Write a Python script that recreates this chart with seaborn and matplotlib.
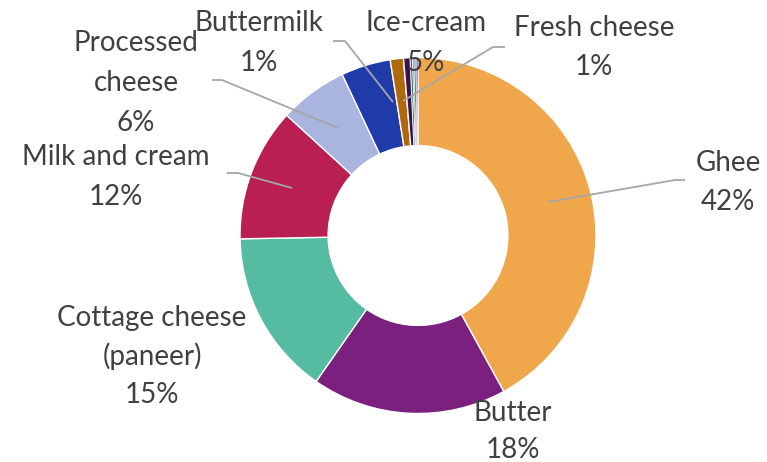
import matplotlib
matplotlib.use("Agg")
import matplotlib.pyplot as plt
import seaborn as sns

sns.set_theme(style="white")
plt.rcParams['font.family'] = ['Lato', 'DejaVu Sans']

# share of each product (clockwise from 12 o'clock)
products = ["Ghee", "Butter", "Cottage cheese\n(paneer)", "Milk and cream",
            "Processed\ncheese", "Ice-cream", "Buttermilk", "Fresh cheese",
            "o1", "o2", "o3", "o4", "o5"]
shares = [42.0, 17.7, 15.0, 12.1, 6.2, 4.5, 1.2, 0.6, 0.2, 0.15, 0.15, 0.1, 0.1]
pct_text = ["42%", "18%", "15%", "12%", "6%", "5%", "1%", "1%"]
colors = ["#F0A64B", "#7B207F", "#55BBA1", "#B91F50", "#A9B5DF", "#1F3AA9",
          "#B0680E", "#3E0F4F", "#2E8A68", "#9AB3A8", "#2F50B3", "#5B3A8C", "#1A2D80"]

W, H = 767, 462
fig = plt.figure(figsize=(W / 100, H / 100), dpi=100)
ax = fig.add_axes([0, 0, 1, 1])

cx, cy, R = 418, 235.5, 178
wedges, _ = ax.pie(shares, colors=colors, startangle=90, counterclock=False,
                   center=(cx, H - cy), radius=R,
                   wedgeprops=dict(width=R * 0.495, edgecolor="white", linewidth=1.0))
# thinner white edges on the tiny slices so their colour still shows
for w in wedges[8:]:
    w.set_linewidth(0.4)
ax.set_xlim(0, W)
ax.set_ylim(0, H)
ax.set_aspect("equal")
ax.axis("off")

txt = "#404040"
line_c = "#A6A6A6"
fs = 20

# label centres (px, from top-left): x, first line y, last line y
label_pos = {
    0: (728, 163, 202),
    1: (513, 413, 450),
    2: (152, 318, 395),
    3: (116, 157, 197),
    4: (136, 43, 123),
    5: (426, 23, 63),
    6: (259, 23, 63),
    7: (594, 28, 67),
}
for i, (x, y_first, y_last) in label_pos.items():
    lines = products[i].split("\n") + [pct_text[i]]
    n = len(lines)
    for k, s in enumerate(lines):
        yy = y_first + (y_last - y_first) * k / (n - 1)
        ax.text(x, H - yy, s, ha="center", va="center", fontsize=fs, color=txt)

# leader lines (px)
leaders = [
    [(548, 202), (675, 180), (685, 180)],
    [(292, 188), (238, 173), (227, 173)],
    [(338, 128), (222, 80), (212, 80)],
    [(393, 102), (345, 41), (333, 41)],
    [(403, 101), (493, 47), (505, 47)],
]
for pts in leaders:
    xs = [p[0] for p in pts]
    ys = [H - p[1] for p in pts]
    ax.plot(xs, ys, color=line_c, lw=1.3, solid_capstyle="butt")

fig.savefig("out.png", dpi=100)
